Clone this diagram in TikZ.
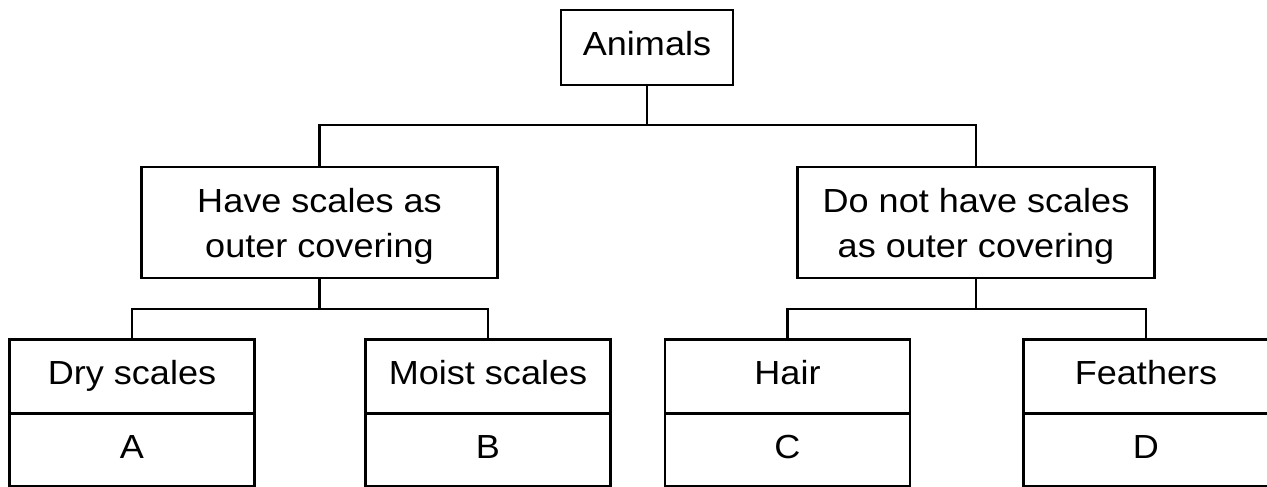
\documentclass[tikz,border=0pt]{standalone}
\usepackage{fontspec}
\setmainfont{Liberation Sans}[FakeStretch=1.08]
\usetikzlibrary{positioning}
\tikzset{
  box/.style={draw, line width=1.5pt, outer sep=0pt, inner sep=0pt,
    font=\fontsize{19}{25.6}\selectfont},
  headbox/.style={box, minimum width=3.44cm, minimum height=1.5cm,
    text height=13.6pt, text depth=4pt},
  groupbox/.style={box, align=center, minimum width=7.13cm,
    minimum height=2.22cm, text depth=0pt},
  kindbox/.style={box, minimum width=4.9cm, minimum height=1.48cm,
    text height=13.6pt, text depth=4pt},
  letterbox/.style={kindbox, minimum height=1.46cm},
  link/.style={line width=1.5pt}
}
\begin{document}
\begin{tikzpicture}
  \useasboundingbox (0,0) rectangle (25.34,-9.72);
  % top
  \node[headbox] (animals) at (12.94,-0.95) {Animals};
  % second row
  \node[groupbox] (scales) at (6.39,-4.45) {Have scales as\\outer covering};
  \node[groupbox] (noscales) at (19.52,-4.45) {Do not have scales\\as outer covering};
  % third row with the letters below
  \node[kindbox] (dry) at (2.64,-7.53) {Dry scales};
  \node[kindbox] (moist) at (9.76,-7.53) {Moist scales};
  \node[kindbox] (hair) at (15.75,-7.53) {Hair};
  \node[kindbox] (feathers) at (22.92,-7.53) {Feathers};
  \node[letterbox, below=0pt of dry] (a) {A};
  \node[letterbox, below=0pt of moist] (b) {B};
  \node[letterbox, below=0pt of hair] (c) {C};
  \node[letterbox, below=0pt of feathers] (d) {D};
  % connectors
  \draw[link] (animals.south) -- ++(0,-0.8) -| (scales.north);
  \draw[link] (animals.south) -- ++(0,-0.8) -| (noscales.north);
  \draw[link] (scales.south) -- ++(0,-0.62) -| (dry.north);
  \draw[link] (scales.south) -- ++(0,-0.62) -| (moist.north);
  \draw[link] (noscales.south) -- ++(0,-0.62) -| (hair.north);
  \draw[link] (noscales.south) -- ++(0,-0.62) -| (feathers.north);
\end{tikzpicture}
\end{document}
